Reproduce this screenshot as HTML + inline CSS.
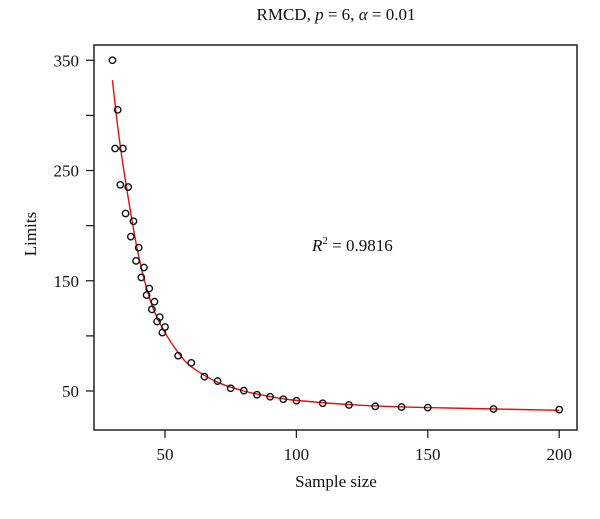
<!DOCTYPE html>
<html><head><meta charset="utf-8"><style>
body{margin:0;background:#fff;}
svg text{font-family:"Liberation Serif",serif;fill:#111;}
</style></head><body>
<svg id="chart" width="600" height="514" viewBox="0 0 600 514" xmlns="http://www.w3.org/2000/svg">
<text x="336" y="20" font-size="17" text-anchor="middle">RMCD, <tspan font-style="italic">p</tspan> = 6, <tspan font-style="italic">α</tspan> = 0.01</text>
<rect x="94" y="45" width="483" height="385" fill="none" stroke="#222" stroke-width="1.5"/>
<g id="xaxis"></g>
<g id="yaxis"></g>
<path id="fit" fill="none" stroke="#e01010" stroke-width="1.4"/>
<g id="pts"></g>
<text x="312" y="251" font-size="17"><tspan font-style="italic">R</tspan><tspan font-size="11" dy="-7">2</tspan><tspan dy="7"> = 0.9816</tspan></text>
<text x="0" y="0" font-size="17" text-anchor="middle" transform="translate(36,234) rotate(-90)">Limits</text>
<text x="336" y="487" font-size="17" text-anchor="middle">Sample size</text>
</svg>
<script>
const sampleX=[30,32,31,34,33,36,35,38,37,40,39,42,41,44,43,46,45,48,47,50,49,55,60,65,70,75,80,85,90,95,100,110,120,130,140,150,175,200];
const limitY=[350,305,270,270,237,235,211,204,190,180,168,162,153,143,137,131,124,117,113,108,103,82,75.5,63,59,52.5,50.3,46.6,44.8,42.5,41.2,38.9,37.3,36.1,35.5,34.9,33.7,33.1];
const fitX=[30,32,35,40,45,50,55,60,70,80,90,100,125,150,200];
const fitY=[332,290,240,172,128,103,85,72,58,50,45,41.5,37,35,32.5];
const xTicks=[50,100,150,200];
const yTicks=[50,100,150,200,250,300,350];
const yLabels=["50","","150","","250","","350"];
const NS="http://www.w3.org/2000/svg";
function xs(v){return 165+(v-50)*131.4/50;}
function ys(v){return 391-(v-50)*55.12/50;}
function mk(tag,attrs,parent){const e=document.createElementNS(NS,tag);for(const k in attrs)e.setAttribute(k,attrs[k]);parent.appendChild(e);return e;}
const xa=document.getElementById('xaxis'),ya=document.getElementById('yaxis');
xTicks.forEach(t=>{
 const l=mk('line',{x1:xs(t),x2:xs(t),y1:430,y2:438,stroke:'#222','stroke-width':1.3},xa);
 
 
 const tx=mk('text',{x:xs(t),y:460,'font-size':17,'text-anchor':'middle'},xa);
 tx.textContent=t;
 
 
});
yTicks.forEach((t,i)=>{
 const l=mk('line',{x1:86,x2:94,y1:ys(t),y2:ys(t),stroke:'#222','stroke-width':1.3},ya);
 
 
 if(yLabels[i]){
  const tx=mk('text',{x:79,y:ys(t)+6,'font-size':17,'text-anchor':'end'},ya);
  tx.textContent=yLabels[i];
  
  
 }
});
// Catmull-Rom fit curve
const P=fitX.map((x,i)=>[xs(x),ys(fitY[i])]);
let d='M'+P[0][0]+','+P[0][1];
for(let i=0;i<P.length-1;i++){
 const p0=P[Math.max(0,i-1)],p1=P[i],p2=P[i+1],p3=P[Math.min(P.length-1,i+2)];
 const c1=[p1[0]+(p2[0]-p0[0])/6,p1[1]+(p2[1]-p0[1])/6];
 const c2=[p2[0]-(p3[0]-p1[0])/6,p2[1]-(p3[1]-p1[1])/6];
 d+=' C'+c1+' '+c2+' '+p2;
}
document.getElementById('fit').setAttribute('d',d);
const g=document.getElementById('pts');
sampleX.forEach((x,i)=>{
 const c=mk('circle',{cx:xs(x),cy:ys(limitY[i]),r:3.2,fill:'none',stroke:'#111','stroke-width':1.4},g);
 
 
});
</script>
</body></html>
